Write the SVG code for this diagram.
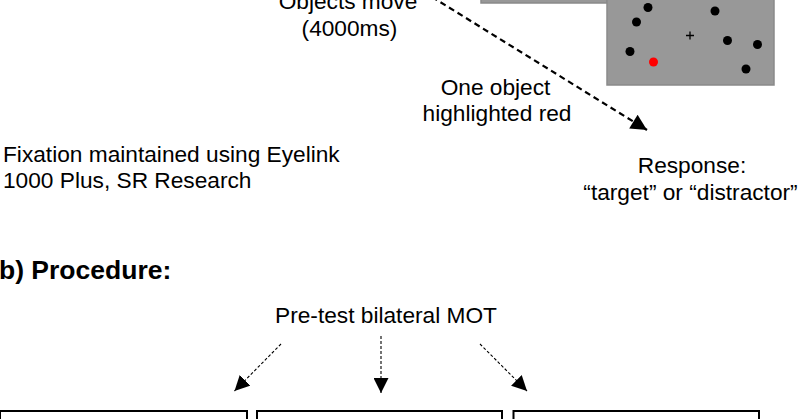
<svg xmlns="http://www.w3.org/2000/svg" width="800" height="419" viewBox="0 0 800 419">
<defs>
<style>
text{font-family:"Liberation Sans",Arial,sans-serif;font-size:22.7px;fill:#000}
.c{text-anchor:middle}
.b{font-weight:bold;font-size:26.5px}
.panel{fill:#989898;stroke:#8a8a8a;stroke-width:1.5}
.dot{fill:#000}
.box{fill:#fff;stroke:#000;stroke-width:2}
.dl{stroke:#000;stroke-width:2.2;stroke-dasharray:6 4;fill:none}
.ds{stroke:#000;stroke-width:1.1;stroke-dasharray:3 2;fill:none}
</style>
<marker id="big" viewBox="0 0 10 10" refX="10" refY="5" markerWidth="18" markerHeight="16" markerUnits="userSpaceOnUse" orient="auto"><path d="M0,0L10,5L0,10z" fill="#000"/></marker>
<marker id="sm" viewBox="0 0 10 10" refX="10" refY="5" markerWidth="15" markerHeight="15" markerUnits="userSpaceOnUse" orient="auto"><path d="M0,0L10,5L0,10z" fill="#000"/></marker>
</defs>
<g id="panel-back"><rect class="panel" x="481" y="-10" width="126" height="13"/></g>
<g id="panel-front">
<rect class="panel" x="607" y="-10" width="167" height="95"/>
<circle class="dot" cx="648" cy="7.5" r="4.5"/>
<circle class="dot" cx="636.5" cy="22" r="4.5"/>
<circle class="dot" cx="715" cy="11" r="4.5"/>
<circle class="dot" cx="727.5" cy="40.5" r="4.5"/>
<circle class="dot" cx="757.5" cy="44.5" r="4.5"/>
<circle class="dot" cx="630" cy="51.5" r="4.5"/>
<circle cx="653.5" cy="62" r="4.5" fill="#f00"/>
<circle class="dot" cx="746" cy="69" r="4.5"/>
<path d="M686,35.5H694M690,31.5V39.5" stroke="#000" stroke-width="1.3"/>
</g>
<g id="label-move"><text class="c" x="348" y="9">Objects move</text><text class="c" x="349.5" y="36">(4000ms)</text></g>
<g id="label-highlight"><text class="c" x="495.5" y="95">One object</text><text class="c" x="497" y="121">highlighted red</text></g>
<g id="label-fixation"><text x="3" y="162">Fixation maintained using Eyelink</text><text x="3" y="188">1000 Plus, SR Research</text></g>
<g id="response"><text class="c" x="692" y="173">Response:</text><text class="c" x="690.5" y="200">“target” or “distractor”</text></g>
<g id="heading"><text class="b" x="-1" y="279">b) Procedure:</text></g>
<g id="pretest"><text class="c" x="386" y="323">Pre-test bilateral MOT</text></g>
<g id="box1"><rect class="box" x="0" y="411" width="247" height="20"/></g>
<g id="box2"><rect class="box" x="257" y="411" width="245" height="20"/></g>
<g id="box3"><rect class="box" x="513.5" y="411" width="245.5" height="20"/></g>
<g id="connectors">
<path class="dl" d="M432,-3L647,130" marker-end="url(#big)"/>
<path class="ds" d="M281,344L234.5,391" marker-end="url(#sm)"/>
<path class="ds" d="M381,336V393" marker-end="url(#sm)"/>
<path class="ds" d="M480,344L527,391" marker-end="url(#sm)"/>
</g>
</svg>
